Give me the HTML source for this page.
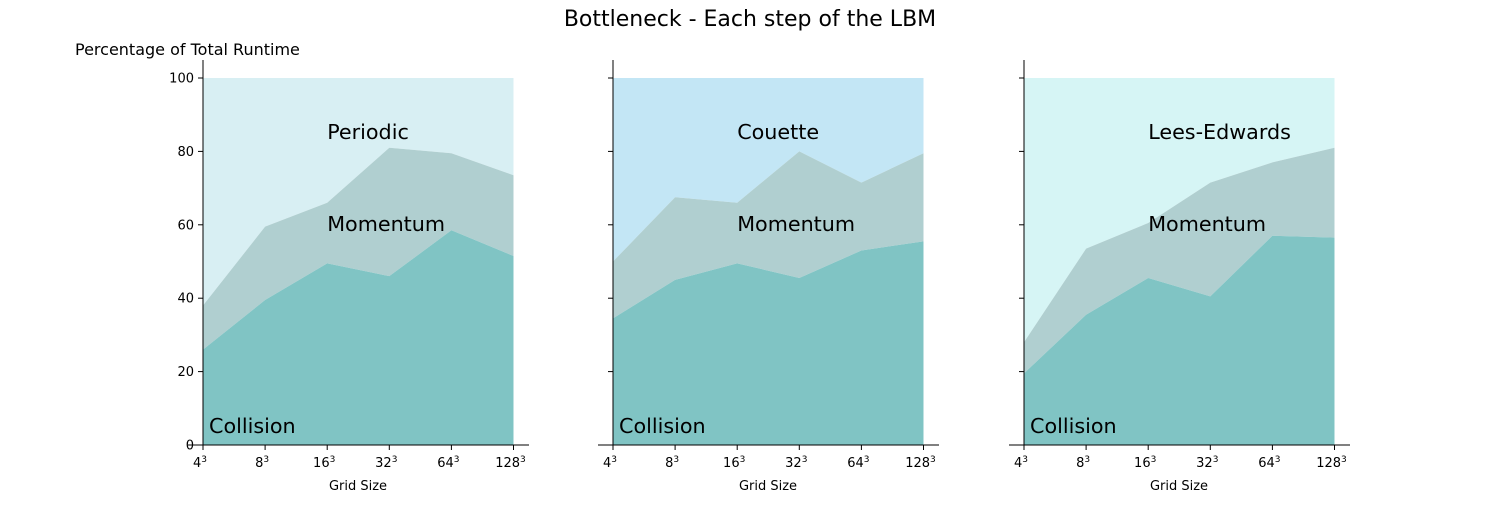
<!DOCTYPE html>
<html><head><meta charset="utf-8"><style>
body{margin:0;background:#fff;}
svg{font-family:"DejaVu Sans","Liberation Sans",sans-serif;}
</style></head><body>
<svg id="c" width="1500" height="500" xmlns="http://www.w3.org/2000/svg">
<text x="750" y="26" text-anchor="middle" font-size="22">Bottleneck - Each step of the LBM</text>
<text x="75" y="55" font-size="16">Percentage of Total Runtime</text>
</svg>
<script>
const categories=["4","8","16","32","64","128"];
const yTicks=[0,20,40,60,80,100];
const panelNames=["Periodic","Couette","Lees-Edwards"];
const collision1=[26,39.5,49.5,46,58.5,51.5];
const momentumTop1=[38,59.5,66,81,79.5,73.5];
const collision2=[34.5,45,49.5,45.5,53,55.5];
const momentumTop2=[50,67.5,66,80,71.5,79.5];
const collision3=[19.5,35.5,45.5,40.5,57,56.5];
const momentumTop3=[28,53.5,60.5,71.5,77,81];
const collisions=[collision1,collision2,collision3];
const momentums=[momentumTop1,momentumTop2,momentumTop3];
const topColors=["#d8eff3","#c3e6f5","#d6f5f5"];
const svg=document.getElementById('c');
const NS="http://www.w3.org/2000/svg";
function mk(tag,attrs,parent){const e=document.createElementNS(NS,tag);for(const k in attrs)e.setAttribute(k,attrs[k]);(parent||svg).appendChild(e);return e;}
const x0s=[203,613,1024];
const step=62.1;
const yS=v=>445-v*3.67;
for(let p=0;p<3;p++){
  const g=mk('g',{});
  
  
  const xS=i=>x0s[p]+i*step;
  const n=categories.length;
  const area=(lo,hi,col,name)=>{
    let d="M"+xS(0)+","+yS(hi[0]);
    for(let i=1;i<n;i++)d+="L"+xS(i)+","+yS(hi[i]);
    for(let i=n-1;i>=0;i--)d+="L"+xS(i)+","+yS(lo[i]);
    const e=mk('path',{d:d+"Z",fill:col},g);
    
    
  };
  const zeros=categories.map(()=>0), hundreds=categories.map(()=>100);
  area(momentums[p],hundreds,topColors[p],'area-'+panelNames[p].toLowerCase());
  area(collisions[p],momentums[p],"#b0cfd0",'area-momentum');
  area(zeros,collisions[p],"#80c4c4",'area-collision');
  const lbl=(t,x,y,name)=>{const e=mk('text',{x:x,y:y,'font-size':20.7},g);e.textContent=t;};
  lbl(panelNames[p],xS(2),139,'label-'+panelNames[p].toLowerCase());
  lbl("Momentum",xS(2),231,'label-momentum');
  lbl("Collision",x0s[p]+6,433,'label-collision');
  const sp1=mk('line',{x1:x0s[p],x2:x0s[p],y1:60,y2:445,stroke:"#000"},g);
  
  const sp2=mk('line',{x1:x0s[p]-15,x2:x0s[p]+326,y1:445,y2:445,stroke:"#000"},g);
  
  yTicks.forEach(v=>{
    mk('line',{x1:x0s[p]-5,x2:x0s[p],y1:yS(v),y2:yS(v),stroke:"#000"},g);
    if(p===0){const t=mk('text',{x:x0s[p]-9,y:yS(v)+4.5,'font-size':13,'text-anchor':'end'},g);t.textContent=v;
      }
  });
  categories.forEach((c,i)=>{
    mk('line',{x1:xS(i),x2:xS(i),y1:445,y2:450},g);
    g.lastChild.setAttribute('stroke','#000');
    const t=mk('text',{x:xS(i)-3,y:467,'font-size':13,'text-anchor':'middle'},g);
    t.textContent=c;
    const s=mk('tspan',{'font-size':9,dy:-5},t);s.textContent="3";
    
  });
  const xt=mk('text',{x:x0s[p]+155,y:490,'font-size':13,'text-anchor':'middle'},g);
  xt.textContent="Grid Size";
  
}
</script>
</body></html>
